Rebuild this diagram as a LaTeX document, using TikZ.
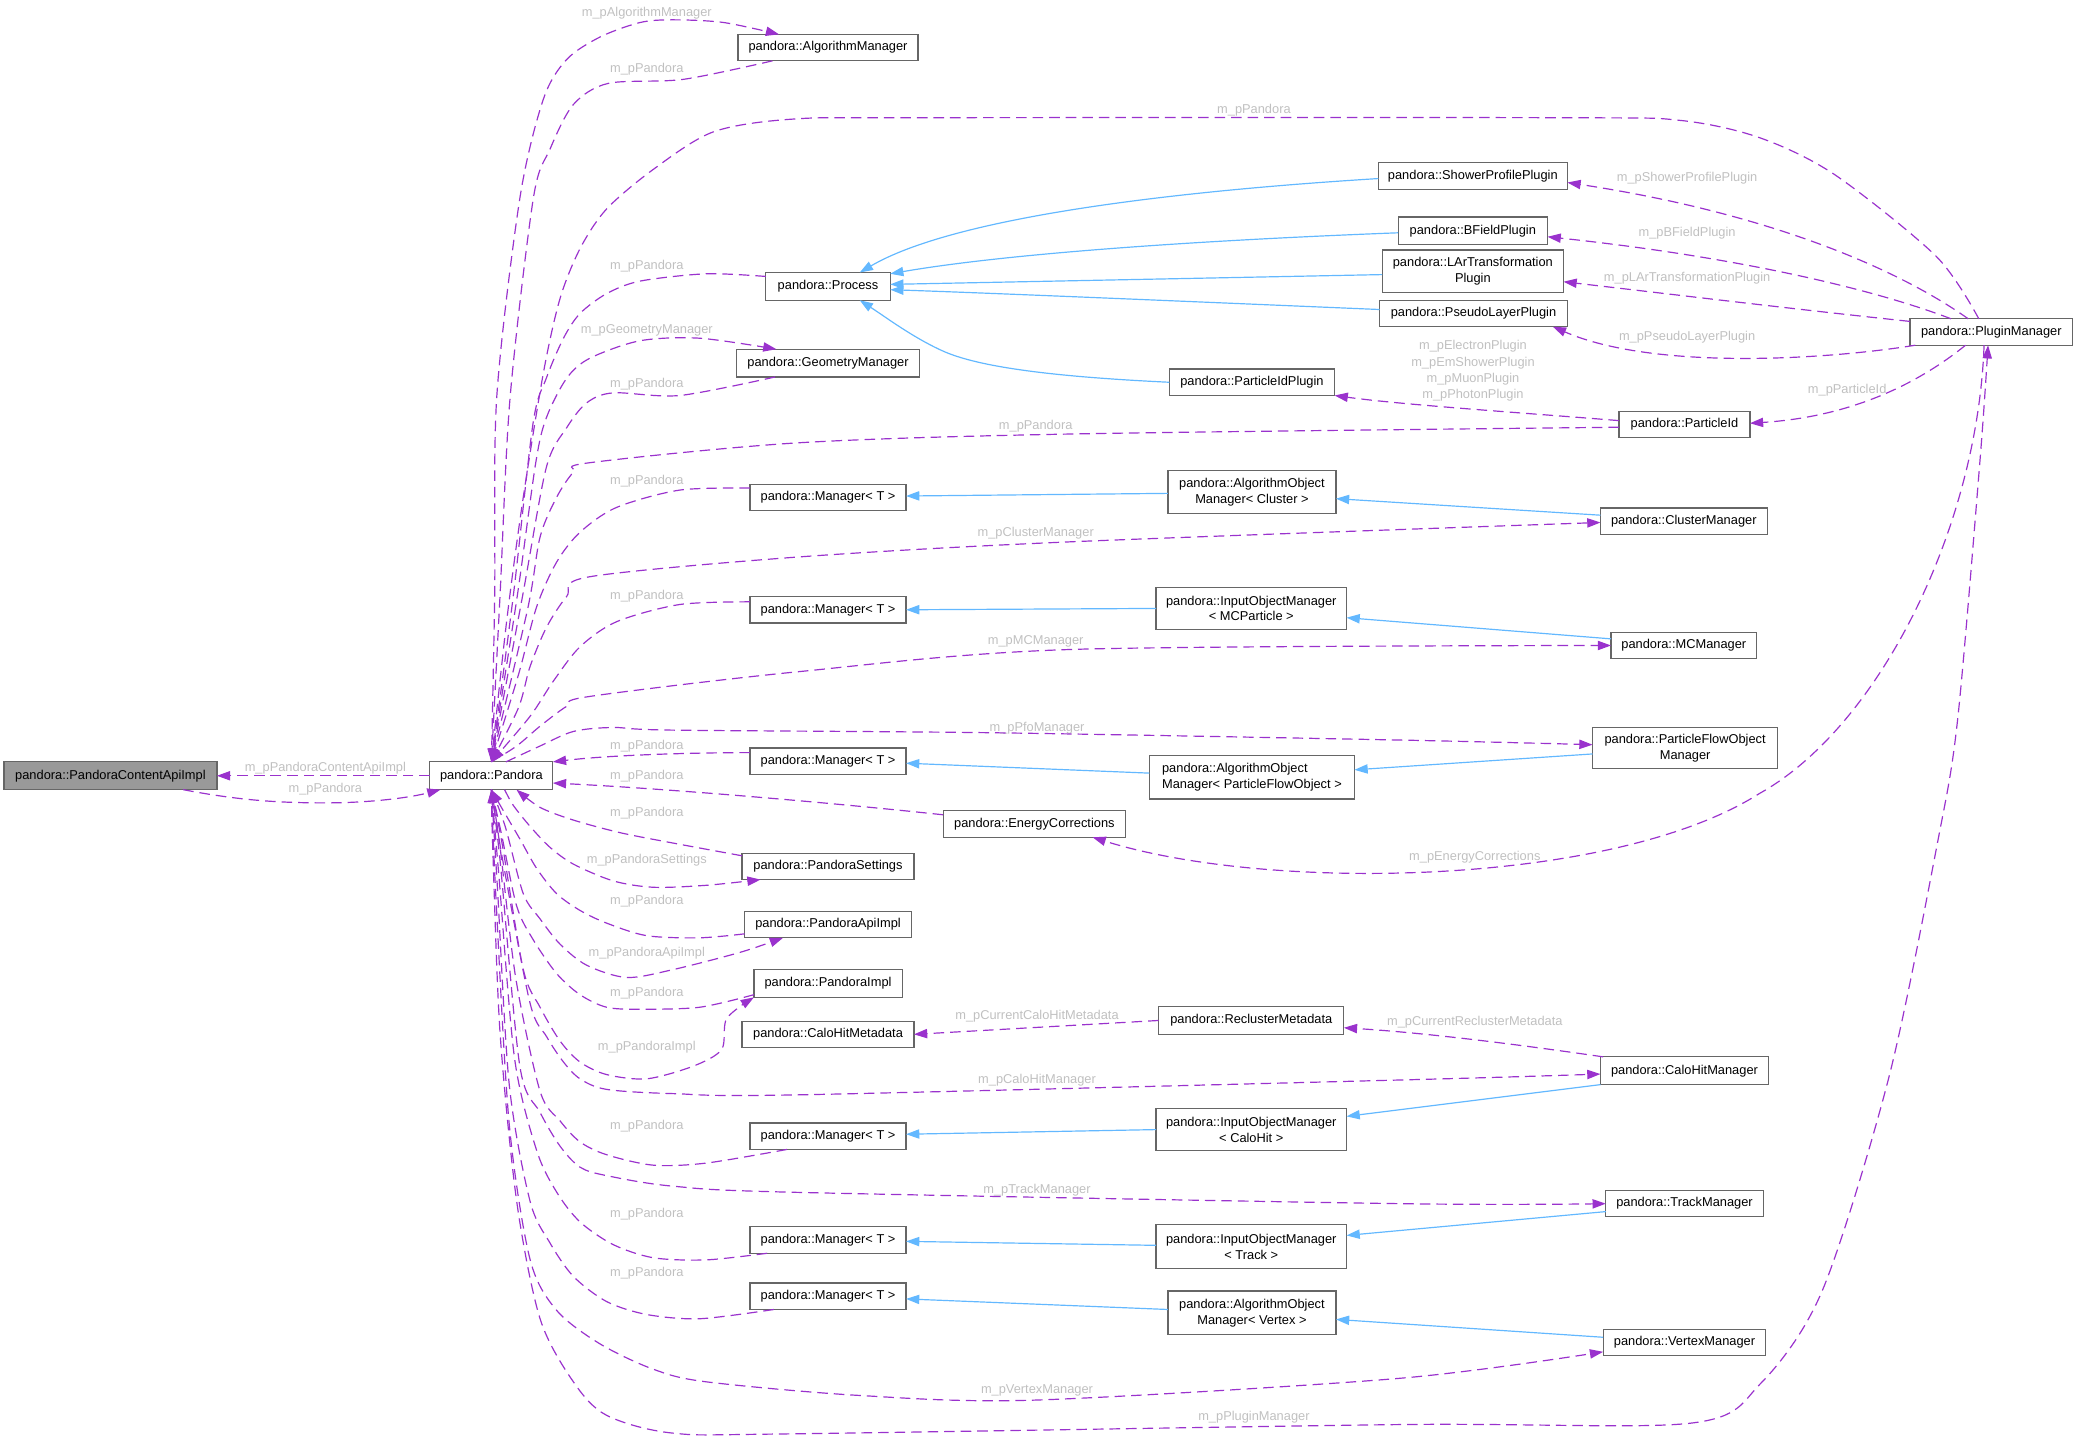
\documentclass[tikz,border=0pt]{standalone}
\usepackage{fontspec}
\setmainfont{Liberation Sans}
\usetikzlibrary{arrows.meta}
\definecolor{edgep}{HTML}{9A32CD}
\definecolor{edgeb}{HTML}{63B8FF}
\definecolor{boxb}{HTML}{666666}
\definecolor{lblc}{HTML}{C0C0C0}
\definecolor{startfill}{HTML}{999999}
\tikzset{
  cls/.style={draw=boxb, line width=0.9pt, fill=white, inner sep=0pt, outer sep=0pt,
    font=\fontsize{9.7}{12}\selectfont, align=center, text=black},
  box/.style 2 args={cls, minimum width=#1, minimum height=#2},
  lbl/.style={text=lblc, font=\fontsize{9.7}{12.2}\selectfont, inner sep=0pt, align=center},
  pe/.style={draw=edgep, line width=0.9pt, dash pattern=on 8pt off 4.5pt,
    -{Triangle[length=10pt,width=7pt]}},
  be/.style={draw=edgeb, line width=0.9pt, -{Triangle[length=10pt,width=7pt]}}
}
\begin{document}
\begin{tikzpicture}[x=1pt,y=-1pt]
\useasboundingbox (0,0) rectangle (1568,1088.7);
% nodes
\node[box={161pt}{21pt}, fill=startfill] (pcai) at (83.5,586.5) {pandora::PandoraContentApiImpl};
\node[box={93pt}{21pt}] (pandora) at (371.5,586.5) {pandora::Pandora};
\node[box={136pt}{20pt}] (algmgr) at (626,36) {pandora::AlgorithmManager};
\node[box={94pt}{21pt}] (process) at (626,216.5) {pandora::Process};
\node[box={138pt}{21pt}] (geom) at (626,274.5) {pandora::GeometryManager};
\node[box={143pt}{20pt}] (shower) at (1113.5,133) {pandora::ShowerProfilePlugin};
\node[box={113pt}{21pt}] (bfield) at (1113.5,174.5) {pandora::BFieldPlugin};
\node[box={137pt}{32pt}] (lar) at (1113.5,205) {pandora::LArTransformation\\Plugin};
\node[box={142pt}{20pt}] (pseudo) at (1114,237) {pandora::PseudoLayerPlugin};
\node[box={123pt}{20pt}] (plugin) at (1505.5,251) {pandora::PluginManager};
\node[box={125pt}{20pt}] (pidp) at (946.5,289) {pandora::ParticleIdPlugin};
\node[box={99pt}{20pt}] (pid) at (1273.5,321) {pandora::ParticleId};
\node[box={118pt}{20pt}] (mgr1) at (626,376) {pandora::Manager< T >};
\node[box={127pt}{32pt}] (aomcl) at (946.5,372) {pandora::AlgorithmObject\\Manager< Cluster >};
\node[box={126pt}{20pt}] (clmgr) at (1273,394) {pandora::ClusterManager};
\node[box={118pt}{20pt}] (mgr2) at (626,461) {pandora::Manager< T >};
\node[box={144pt}{32pt}] (iommc) at (946,460) {pandora::InputObjectManager\\< MCParticle >};
\node[box={110pt}{20pt}] (mcmgr) at (1273,488) {pandora::MCManager};
\node[box={140pt}{31pt}] (pfomgr) at (1274,565.5) {pandora::ParticleFlowObject\\Manager};
\node[box={118pt}{20pt}] (mgr3) at (626,575.5) {pandora::Manager< T >};
\node[box={155pt}{33pt}, align=left] (aompfo) at (946.5,587.5) {pandora::AlgorithmObject\\Manager< ParticleFlowObject >};
\node[box={138pt}{20pt}] (ecorr) at (782,623) {pandora::EnergyCorrections};
\node[box={130pt}{20pt}] (pset) at (626,655) {pandora::PandoraSettings};
\node[box={126pt}{20pt}] (papi) at (626,699) {pandora::PandoraApiImpl};
\node[box={112pt}{21pt}] (pimpl) at (626,743.5) {pandora::PandoraImpl};
\node[box={130pt}{20pt}] (chmeta) at (626,782) {pandora::CaloHitMetadata};
\node[box={140pt}{21pt}] (recl) at (946,771.5) {pandora::ReclusterMetadata};
\node[box={127pt}{21pt}] (chmgr) at (1273.5,809.5) {pandora::CaloHitManager};
\node[box={118pt}{20pt}] (mgr4) at (626,859) {pandora::Manager< T >};
\node[box={144pt}{32pt}] (iomch) at (946,854) {pandora::InputObjectManager\\< CaloHit >};
\node[box={119pt}{20pt}] (track) at (1273.5,910) {pandora::TrackManager};
\node[box={118pt}{20pt}] (mgr5) at (626,937.5) {pandora::Manager< T >};
\node[box={144pt}{33pt}] (iomtr) at (946,942.5) {pandora::InputObjectManager\\< Track >};
\node[box={118pt}{20pt}] (mgr6) at (626,980) {pandora::Manager< T >};
\node[box={127pt}{33pt}] (aomv) at (946.5,992.5) {pandora::AlgorithmObject\\Manager< Vertex >};
\node[box={123pt}{20pt}] (vertex) at (1273.5,1015) {pandora::VertexManager};

% labels
\node[lbl] (l1) at (246,581) {m\_pPandoraContentApiImpl};
\node[lbl] (l2) at (246,597) {m\_pPandora};
\node[lbl] (l3) at (489,10) {m\_pAlgorithmManager};
\node[lbl] (l4) at (489,52) {m\_pPandora};
\node[lbl] (l5) at (948,83) {m\_pPandora};
\node[lbl] (l6) at (489,201) {m\_pPandora};
\node[lbl] (l7) at (489,250) {m\_pGeometryManager};
\node[lbl] (l8) at (489,290.5) {m\_pPandora};
\node[lbl] (l9) at (783,322) {m\_pPandora};
\node[lbl] (l10) at (489,364) {m\_pPandora};
\node[lbl] (l11) at (783,403) {m\_pClusterManager};
\node[lbl] (l12) at (489,451) {m\_pPandora};
\node[lbl] (l13) at (783,485) {m\_pMCManager};
\node[lbl] (l14) at (784,550.5) {m\_pPfoManager};
\node[lbl] (l15) at (489,564) {m\_pPandora};
\node[lbl] (l16) at (489,587) {m\_pPandora};
\node[lbl] (l17) at (1115,647.7) {m\_pEnergyCorrections};
\node[lbl] (l18) at (489,615) {m\_pPandora};
\node[lbl] (l19) at (489,650) {m\_pPandoraSettings};
\node[lbl] (l20) at (489,681) {m\_pPandora};
\node[lbl] (l21) at (489,721) {m\_pPandoraApiImpl};
\node[lbl] (l22) at (489,751) {m\_pPandora};
\node[lbl] (l23) at (489,791.5) {m\_pPandoraImpl};
\node[lbl] (l24) at (784,768) {m\_pCurrentCaloHitMetadata};
\node[lbl] (l25) at (1115,772.7) {m\_pCurrentReclusterMetadata};
\node[lbl] (l26) at (784,817) {m\_pCaloHitManager};
\node[lbl] (l27) at (489,851.5) {m\_pPandora};
\node[lbl] (l28) at (784,899.7) {m\_pTrackManager};
\node[lbl] (l29) at (489,918) {m\_pPandora};
\node[lbl] (l30) at (489,962.6) {m\_pPandora};
\node[lbl] (l31) at (784,1051) {m\_pVertexManager};
\node[lbl] (l32) at (948,1071.5) {m\_pPluginManager};
\node[lbl] (l33) at (1275.5,134.7) {m\_pShowerProfilePlugin};
\node[lbl] (l34) at (1275.5,176) {m\_pBFieldPlugin};
\node[lbl] (l35) at (1275.5,210) {m\_pLArTransformationPlugin};
\node[lbl] (l36) at (1275.5,255) {m\_pPseudoLayerPlugin};
\node[lbl] (l37) at (1396.5,295) {m\_pParticleId};
\node[lbl] (l38) at (1113.6,280.3) {m\_pElectronPlugin\\m\_pEmShowerPlugin\\m\_pMuonPlugin\\m\_pPhotonPlugin};

% purple collaboration edges
\draw[pe] (pandora.west) -- (pcai.east);
\draw[pe] ([xshift=55pt]pcai.south) .. controls (180,605) and (210,607) .. (246,607) .. controls (280,607) and (310,603) .. ([xshift=8pt]pandora.south west);
% upper fan
\draw[pe] plot[smooth] coordinates {(pandora.north) (374,450) (375.5,301) (393,150) (410.8,75) (428.4,45) (453.6,28) (484,17) (509,15) (547,17) ([xshift=-37pt]algmgr.north)};
\draw[pe] plot[smooth] coordinates {([xshift=-42pt]algmgr.south) (516.6,60) (460,63) (433.5,79) (415.8,112.8) (403.2,150) (385.6,301) (378,451) (pandora.north)};
\draw[pe] plot[smooth] coordinates {([xshift=-9.5pt]plugin.north) (1464,194) (1387,132) (1330,104) (1270,91) (1180,89) (700,89) (600,90) (539.3,99.7) (494,128) (458.6,158) (438.5,188) (423.4,225.7) (410.8,282) (395,380) (383,470) (pandora.north)};
\draw[pe] plot[smooth] coordinates {([yshift=7.5pt]process.west) (534,207) (484,212.5) (458.6,222) (438.5,237) (426,255.7) (413,286) (403,320) (388,451) (pandora.north)};
\draw[pe] plot[smooth] coordinates {(pandora.north) (391,451) (405,350) (413,316) (428.4,286) (446,270.8) (484,257.6) (529,255.7) ([xshift=-39pt]geom.north)};
\draw[pe] plot[smooth] coordinates {([xshift=-40pt]geom.south) (514,299) (463.7,297) (443.5,304.6) (428.4,323.4) (413,353.5) (395,451) (pandora.north)};
\draw[pe] plot[smooth] coordinates {([yshift=-2pt]pid.west) (816,328) (604.8,334.7) (446,349.8) (433.5,357) (420.8,376) (408.3,406) (399,460) (pandora.north)};
\draw[pe] plot[smooth] coordinates {([yshift=7pt]mgr1.west) (514,370.5) (466.2,383.6) (438.5,402.4) (420.8,425) (405.7,458.8) (392,510) (pandora.north)};
\draw[pe] plot[smooth] coordinates {(pandora.north) (392,535) (400.7,504) (413.3,474) (428.4,451) (446,436) (604.8,421) (810,409.6) ([yshift=-1pt]clmgr.west)};
\draw[pe] plot[smooth] coordinates {([yshift=6pt]mgr2.west) (514,457) (466.2,470) (438.5,489) (418.3,515) (400.7,541.6) (pandora.north)};
\draw[pe] plot[smooth] coordinates {(pandora.north) (390.6,564) (408.3,549) (428.4,534) (446,526.5) (604.8,507.7) (810,491) (mcmgr.west)};
\draw[pe] plot[smooth] coordinates {([xshift=11pt]pandora.north) (408.3,564) (433.5,553) (463.7,550) (509,552) (752,554) (1058.5,559.5) ([yshift=2.5pt]pfomgr.west)};
\draw[pe] ([yshift=6.5pt]mgr3.west) .. controls (520,569) and (460,571) .. (pandora.north east);
\draw[pe] ([yshift=7pt]ecorr.west) .. controls (620,606) and (500,596) .. ([yshift=-5.5pt]pandora.east);
\draw[pe] ([xshift=-5.5pt]plugin.south) .. controls (1495,400) and (1420,550) .. (1330,600) .. controls (1220,670) and (960,675) .. ([xshift=44pt]ecorr.south);
% lower fan
\draw[pe] plot[smooth] coordinates {([yshift=8pt]pset.west) (509,637.4) (468.7,629.5) (433.5,620) (408.3,610.4) ([xshift=19pt]pandora.south)};
\draw[pe] plot[smooth] coordinates {([xshift=10pt]pandora.south) (388,608.8) (400.7,624.7) (415.8,640.6) (433.5,653.3) (463.7,666) (494,670.8) (534,669.3) ([xshift=-51pt]pset.south)};
\draw[pe] plot[smooth] coordinates {([yshift=-7pt]papi.west) (529,709) (489,707.4) (458.6,697.9) (438.5,688.3) (420.8,675.6) (405.7,656.5) (393,634.2) (380,612) (pandora.south)};
\draw[pe] plot[smooth] coordinates {(pandora.south) (382,625) (395.6,675.6) (408.3,694.7) (423.4,713.8) (443.5,729.7) (473.8,739) (509,733) (559.5,720) ([xshift=-34pt]papi.south)};
\draw[pe] plot[smooth] coordinates {([yshift=-8.5pt]pimpl.west) (529,761.5) (484,763) (458.6,761.5) (438.5,752) (420.8,736) (403.2,710.6) (390.6,685) (379,630) (pandora.south)};
\draw[pe] plot[smooth] coordinates {(pandora.south) (380,640) (395.6,732.9) (408.3,761.5) (423.4,787) (438.5,802.9) (458.6,812.4) (489,815.6) (524.2,806) (545.6,793.4) (549.4,770) (pimpl.south west)};
\draw[pe] (recl.west) -- (chmeta.east);
\draw[pe] ([xshift=2pt]chmgr.north west) .. controls (1150,790) and (1080,781) .. ([yshift=-5.5pt]recl.east);
\draw[pe] plot[smooth] coordinates {(pandora.south) (380,650) (400.7,758.3) (413.3,783.8) (426,802.9) (438.5,815.6) (458.6,823.6) (509,826.8) (604.8,827.7) (1058.5,816.5) ([yshift=-2.5pt]chmgr.west)};
\draw[pe] plot[smooth] coordinates {([xshift=-31pt]mgr4.south) (534,879.3) (494,880.9) (458.6,873) (438.5,863.3) (423.4,847.4) (408.3,825) (390,740) (378,640) (pandora.south)};
\draw[pe] plot[smooth] coordinates {(pandora.south) (378,650) (393,806) (408.3,841) (423.4,866.5) (438.5,882.4) (458.6,888.8) (509,896.8) (604.8,901.5) (1058.5,910) (track.west)};
\draw[pe] plot[smooth] coordinates {([xshift=-46pt]mgr5.south) (534,952.5) (494,950.9) (463.7,941) (438.5,923.8) (421,901.5) (405.7,869.7) (389,800) (377,660) (pandora.south)};
\draw[pe] plot[smooth] coordinates {([xshift=-41pt]mgr6.south) (529,997) (489,993.8) (458.6,984) (433.5,965) (415.8,939.7) (400.7,908) (385,820) (376,670) (pandora.south)};
\draw[pe] plot[smooth] coordinates {(pandora.south) (375,680) (385,850) (400.7,952) (420.8,990.6) (453.6,1016) (494,1035.2) (534,1044.7) (650,1055) (782.6,1058.5) (1058.5,1042) ([yshift=-7pt]vertex.west)};
\draw[pe] plot[smooth] coordinates {(pandora.south) (372.5,640) (378,780) (390.6,908) (408.3,997) (433.5,1044.7) (458.6,1070) (509,1083.5) (600,1084) (1058.5,1077) (1277.7,1076) (1331,1046) (1378,975) (1428,814.6) (1465,636) (1480,544) (1497,347) ([xshift=-2.5pt]plugin.south)};
% right side
\draw[pe] ([xshift=-17.5pt]plugin.north) .. controls (1430,200) and (1330,160) .. ([yshift=-5pt]shower.east);
\draw[pe] ([xshift=-30.5pt]plugin.north) .. controls (1420,220) and (1320,195) .. ([yshift=-4.5pt]bfield.east);
\draw[pe] ([yshift=8pt]plugin.west) .. controls (1350,233) and (1260,222) .. ([yshift=-8pt]lar.east);
\draw[pe] ([xshift=4pt]plugin.south west) .. controls (1380,272) and (1250,280) .. ([xshift=60pt]pseudo.south);
\draw[pe] ([xshift=-19.5pt]plugin.south) .. controls (1450,290) and (1400,315) .. ([yshift=1pt]pid.east);
\draw[pe] ([yshift=3pt]pid.west) .. controls (1150,312) and (1060,306) .. (pidp.south east);

% blue inheritance edges
\draw[be] ([yshift=-2pt]shower.west) .. controls (880,145) and (720,165) .. ([xshift=24pt]process.north);
\draw[be] ([yshift=-1.5pt]bfield.west) .. controls (900,182) and (760,192) .. ([yshift=9.5pt]process.east);
\draw[be] ([yshift=-2.6pt]lar.west) -- ([yshift=1.5pt]process.east);
\draw[be] ([yshift=3pt]pseudo.west) .. controls (900,228) and (760,222) .. ([yshift=-2.5pt]process.east);
\draw[be] (pidp.west) .. controls (800,285) and (740,278) .. (712,265) .. controls (690,255) and (670,240) .. ([xshift=24pt]process.south);
\draw[be] ([yshift=-1pt]aomcl.west) -- ([yshift=1pt]mgr1.east);
\draw[be] ([yshift=4.5pt]clmgr.west) -- ([yshift=-5pt]aomcl.east);
\draw[be] (iommc.west) -- (mgr2.east);
\draw[be] ([yshift=5pt]mcmgr.west) -- ([yshift=-7pt]iommc.east);
\draw[be] ([yshift=3pt]aompfo.west) -- ([yshift=-1.5pt]mgr3.east);
\draw[be] ([yshift=-4.5pt]pfomgr.west) -- ([yshift=5.5pt]aompfo.east);
\draw[be] (iomch.west) -- ([yshift=1.5pt]mgr4.east);
\draw[be] (chmgr.south west) -- ([yshift=10pt]iomch.east);
\draw[be] ([yshift=1pt]iomtr.west) -- ([yshift=-1pt]mgr5.east);
\draw[be] ([yshift=-6pt]track.west) -- ([yshift=8.5pt]iomtr.east);
\draw[be] ([yshift=2.5pt]aomv.west) -- ([yshift=-2pt]mgr6.east);
\draw[be] ([yshift=4pt]vertex.west) -- ([yshift=-5pt]aomv.east);
\end{tikzpicture}
\end{document}
